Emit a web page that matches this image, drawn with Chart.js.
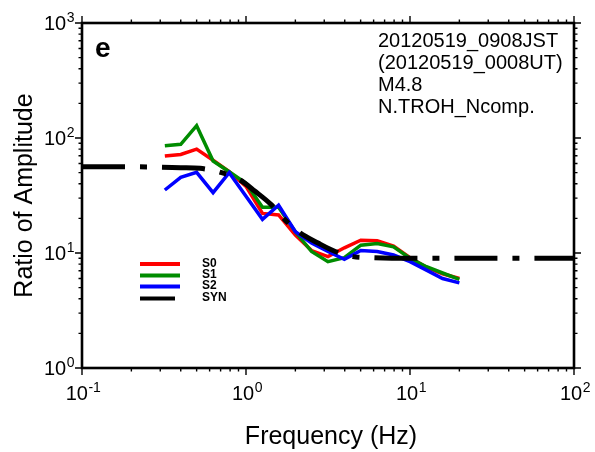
<!DOCTYPE html>
<html>
<head>
<meta charset="utf-8">
<script src="https://cdn.jsdelivr.net/npm/chart.js@4.4.0/dist/chart.umd.min.js"></script>
<style>
  html, body { margin: 0; padding: 0; background: #fff; }
  #wrap { width: 595px; height: 452px; }
</style>
</head>
<body>
<div id="wrap"><canvas id="myChart" width="595" height="452"></canvas></div>
<script>
// values (Hz, amplitude ratio)
var freq = [0.32, 0.40, 0.50, 0.63, 0.79, 1.0, 1.26, 1.58, 2.0, 2.51, 3.16, 3.98, 5.01, 6.31, 7.94, 10.0, 12.6, 15.8, 20.0];
var s0 = [69.7, 72, 80, 64, 50.9, 38, 22.1, 21.4, 14.3, 10.5, 9.3, 11.1, 12.9, 12.8, 11.5, 9.1, 7.5, 6.6, 6.0];
var s1 = [85.7, 88.2, 128, 63, 50.9, 40.4, 25, 25, 15.3, 10.3, 8.4, 9.1, 11.7, 12.1, 11.3, 9.0, 7.6, 6.7, 5.9];
var s2 = [35.3, 45.5, 50.3, 33.5, 49.9, 31.1, 19.6, 26.1, 15.3, 12.2, 10.3, 8.8, 10.5, 10.3, 9.6, 8.4, 7.1, 6.0, 5.5];
var synFreq = [0.1, 0.2, 0.3, 0.4, 0.525, 0.71, 0.92, 1.13, 1.43, 1.73, 2.13, 2.75, 3.5, 4.5, 6, 10, 20, 50, 100];
var synVal = [56.3, 56.2, 55.8, 55.2, 54.5, 49.9, 43.1, 34.6, 26.2, 19.4, 15.0, 12.2, 10.3, 9.3, 9.1, 9.0, 9.0, 9.0, 9.0];

var xTickExp = [-1, 0, 1, 2];
var yTickExp = [0, 1, 2, 3];
var seriesNames = ["S0", "S1", "S2", "SYN"];
var seriesColors = ["#ff0000", "#008c00", "#0000ff", "#000000"];
var infoLines = ["20120519_0908JST", "(20120519_0008UT)", "M4.8", "N.TROH_Ncomp."];

function pts(xs, ys) {
  return xs.map(function (f, i) { return { x: f, y: ys[i] }; });
}

function drawPow(ctx, e, x, y, align) {
  var es = String(e);
  ctx.font = "20px 'Liberation Sans', Arial, sans-serif";
  var w1 = ctx.measureText("10").width;
  ctx.font = "14px 'Liberation Sans', Arial, sans-serif";
  var w2 = ctx.measureText(es).width;
  var x0 = align == "center" ? x - (w1 + w2) / 2 + 1 : x - (w1 + w2);
  ctx.textAlign = "left";
  ctx.textBaseline = "alphabetic";
  ctx.font = "20px 'Liberation Sans', Arial, sans-serif";
  ctx.fillText("10", x0, y);
  ctx.font = "14px 'Liberation Sans', Arial, sans-serif";
  ctx.fillText(es, x0 + w1 + 0.5, y - 8);
}

var frame = {
  id: "frame",
  afterDatasetsDraw: function (chart) {
    var ctx = chart.ctx, a = chart.chartArea;
    var x = chart.scales.x, y = chart.scales.y;
    ctx.save();
    ctx.strokeStyle = "#000";
    ctx.fillStyle = "#000";

    // ticks, outward on all four sides
    ctx.lineWidth = 1.4;
    ctx.beginPath();
    for (var d = -1; d <= 2; d++) {
      for (var m = 1; m <= 9; m++) {
        if (d == 2 && m > 1) break;
        var px = x.getPixelForValue(m * Math.pow(10, d));
        var len = m == 1 ? 7 : 3.5;
        ctx.moveTo(px, a.bottom); ctx.lineTo(px, a.bottom + len);
        ctx.moveTo(px, a.top); ctx.lineTo(px, a.top - len);
      }
    }
    for (var d = 0; d <= 3; d++) {
      for (var m = 1; m <= 9; m++) {
        if (d == 3 && m > 1) break;
        var py = y.getPixelForValue(m * Math.pow(10, d));
        var len = m == 1 ? 7 : 3.5;
        ctx.moveTo(a.left, py); ctx.lineTo(a.left - len, py);
        ctx.moveTo(a.right, py); ctx.lineTo(a.right + len, py);
      }
    }
    ctx.stroke();

    ctx.lineWidth = 2.6;
    ctx.strokeRect(a.left, a.top, a.right - a.left, a.bottom - a.top);

    // tick labels
    xTickExp.forEach(function (e) {
      drawPow(ctx, e, x.getPixelForValue(Math.pow(10, e)), 400, "center");
    });
    yTickExp.forEach(function (e) {
      drawPow(ctx, e, 74, y.getPixelForValue(Math.pow(10, e)) + 7, "right");
    });

    // axis titles
    ctx.font = "25px 'Liberation Sans', Arial, sans-serif";
    ctx.textAlign = "center";
    ctx.textBaseline = "alphabetic";
    ctx.fillText("Frequency (Hz)", (a.left + a.right) / 2 + 3, 444);
    ctx.save();
    ctx.translate(32, (a.top + a.bottom) / 2);
    ctx.rotate(-Math.PI / 2);
    ctx.fillText("Ratio of Amplitude", 0, 0);
    ctx.restore();

    // panel letter and event info
    ctx.textAlign = "left";
    ctx.font = "bold 28px 'Liberation Sans', Arial, sans-serif";
    ctx.fillText("e", 95, 57);
    ctx.font = "20px 'Liberation Sans', Arial, sans-serif";
    infoLines.forEach(function (t, i) {
      ctx.fillText(t, 378, 46.5 + i * 22);
    });

    // legend
    var ly = [264, 275.5, 286.5, 298.5];
    ctx.font = "bold 12px 'Liberation Sans', Arial, sans-serif";
    ctx.textBaseline = "middle";
    seriesNames.forEach(function (n, i) {
      ctx.strokeStyle = seriesColors[i];
      ctx.lineWidth = 4;
      ctx.beginPath();
      ctx.moveTo(140, ly[i]);
      ctx.lineTo(i == 3 ? 175 : 180, ly[i]);
      ctx.stroke();
      ctx.fillText(n, 202, ly[i] - 0.5);
    });
    ctx.restore();
  }
};

new Chart("myChart", {
  type: "line",
  data: {
    datasets: [
      { label: seriesNames[0], data: pts(freq, s0), borderColor: seriesColors[0], borderWidth: 3.5, pointRadius: 0, order: 3 },
      { label: seriesNames[1], data: pts(freq, s1), borderColor: seriesColors[1], borderWidth: 3.5, pointRadius: 0, order: 2 },
      { label: seriesNames[2], data: pts(freq, s2), borderColor: seriesColors[2], borderWidth: 3.5, pointRadius: 0, order: 1 },
      { label: seriesNames[3], data: pts(synFreq, synVal), borderColor: seriesColors[3], borderWidth: 5,
        borderDash: [43, 15, 7, 15], cubicInterpolationMode: "monotone", pointRadius: 0, order: 0 }
    ]
  },
  options: {
    responsive: false,
    animation: false,
    layout: { padding: { left: 82, top: 23, right: 21, bottom: 84 } },
    plugins: { legend: { display: false }, tooltip: { enabled: false } },
    scales: {
      x: { type: "logarithmic", min: 0.1, max: 100, display: false },
      y: { type: "logarithmic", min: 1, max: 1000, display: false }
    }
  },
  plugins: [frame]
});
</script>
</body>
</html>
